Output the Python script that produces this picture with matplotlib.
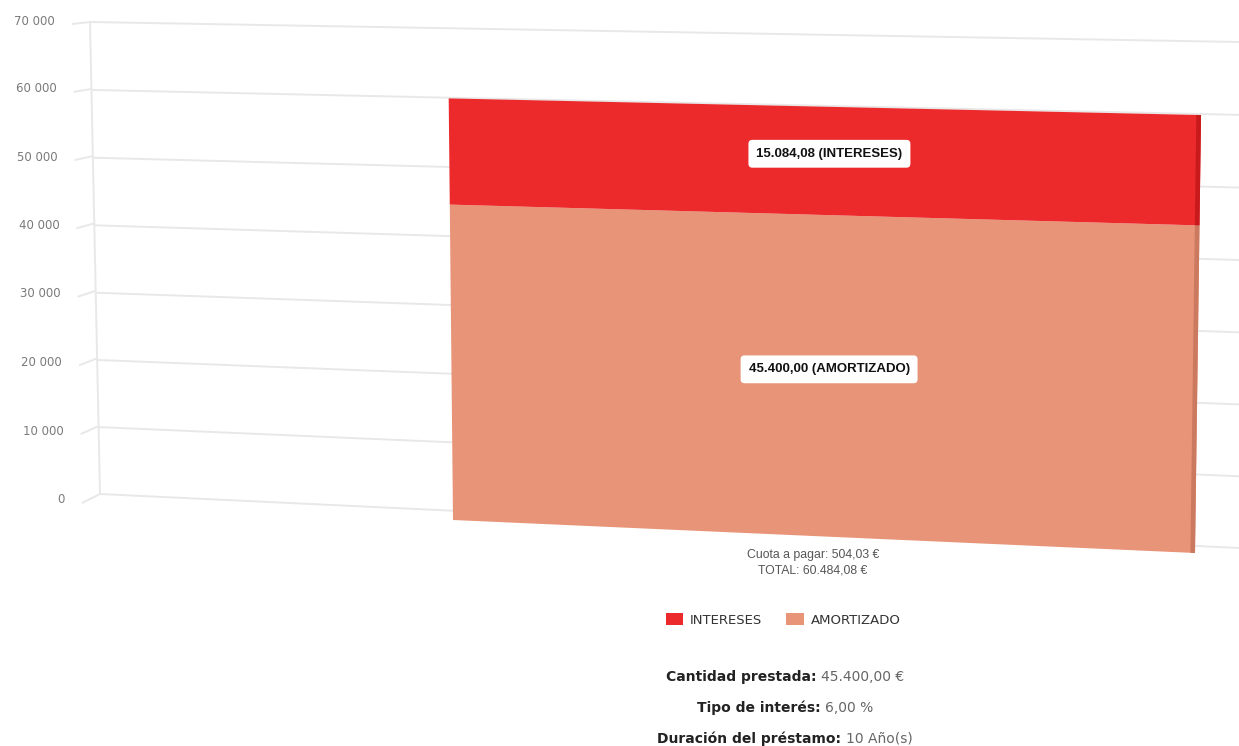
"""
Loan summary chart: one stacked column (amortizado + intereses) drawn in a
tilted 3D-looking perspective, with legend and loan details underneath.
"""
import numpy as np
import matplotlib
matplotlib.use('Agg')
import matplotlib.pyplot as plt
import matplotlib.transforms as mtransforms
from matplotlib.patches import Patch

# ======================== Data ========================
categories = ['Cuota a pagar: 504,03 €\nTOTAL: 60.484,08 €']
amortizado = [45400.00]
intereses = [15084.08]
series_names = ['INTERESES', 'AMORTIZADO']
labels_intereses = ['15.084,08 (INTERESES)']
labels_amortizado = ['45.400,00 (AMORTIZADO)']
y_ticks = [0, 10000, 20000, 30000, 40000, 50000, 60000, 70000]
y_tick_labels = ['0', '10 000', '20 000', '30 000', '40 000', '50 000', '60 000', '70 000']
summary_keys = ['Cantidad prestada:', 'Tipo de interés:', 'Duración del préstamo:']
summary_vals = ['45.400,00 €', '6,00 %', '10 Año(s)']

# ======================== Style / layout ========================
W_PX, H_PX = 1239, 746
RED = '#ec2a2c'
RED_SIDE = '#c81a1c'
SALMON = '#e89478'
SALMON_SIDE = '#cc7a5f'
GRID = '#e8e8e8'
NARROW = ['Liberation Sans', 'DejaVu Sans']

Y_MAX = 70000
WALL_X0, WALL_X1 = -1.0, 0.75     # back wall extent (flat coords)
SIDE_X0 = -1.12                   # outer edge of the left side wall
BAR_W = 1.0

# where the flat frames land in the picture (image pixels, y from top)
WALL_IMG = [(100, 494), (90, 22), (1239, 42), (1239, 548)]
SIDE_IMG = [(82, 503), (72, 24), (90, 22), (100, 494)]
FRONT_IMG = [(453, 520), (448, 31), (1202, 45), (1195, 553)]
SUMMARY_Y = [677, 708, 739]
SUMMARY_CX = 785


# ======================== Perspective warp ========================
class Warp(mtransforms.Transform):
    """Projective (homography) warp in display space."""
    input_dims = output_dims = 2
    has_inverse = True

    def __init__(self, H):
        super().__init__()
        self.H = np.asarray(H, float)

    def transform_non_affine(self, values):
        v = np.asarray(values, float).reshape(-1, 2)
        p = np.column_stack([v, np.ones(len(v))]) @ self.H.T
        return p[:, :2] / p[:, 2:3]

    def inverted(self):
        return Warp(np.linalg.inv(self.H))


def fit_homography(src, dst):
    rows = []
    for (x, y), (u, v) in zip(src, dst):
        rows.append([x, y, 1, 0, 0, 0, -u * x, -u * y, -u])
        rows.append([0, 0, 0, x, y, 1, -v * x, -v * y, -v])
    _, _, vt = np.linalg.svd(np.array(rows))
    return vt[-1].reshape(3, 3)


def frame_transform(ax, x0, x1, img_pts):
    flat = ax.transData.transform([(x0, 0), (x0, Y_MAX), (x1, Y_MAX), (x1, 0)])
    dst = [(x, H_PX - y) for x, y in img_pts]
    return ax.transData + Warp(fit_homography(flat, dst))


# ======================== Figure ========================
fig = plt.figure(figsize=(W_PX / 100, H_PX / 100), dpi=100)
ax = fig.add_axes([0, 0, 1, 1])
ax.set_autoscale_on(False)
ax.set_xlim(-1.3, 1.0)
ax.set_ylim(0, Y_MAX)
ax.axis('off')

tr_wall = frame_transform(ax, WALL_X0, WALL_X1, WALL_IMG)
tr_side = frame_transform(ax, SIDE_X0, WALL_X0, SIDE_IMG)
tr_front = frame_transform(ax, -BAR_W / 2, BAR_W / 2, FRONT_IMG)

# --- back wall grid + side wall ---
ax.hlines(y_ticks, WALL_X0, WALL_X1, colors=GRID, lw=1.4, transform=tr_wall,
          clip_on=False, zorder=1)
ax.hlines(y_ticks, SIDE_X0, WALL_X0, colors=GRID, lw=1.4, transform=tr_side,
          clip_on=False, zorder=1)
ax.vlines(WALL_X0, 0, Y_MAX, colors=GRID, lw=1.4, transform=tr_wall,
          clip_on=False, zorder=1)

tick_tr = mtransforms.offset_copy(tr_side, fig, x=-17, y=3, units='dots')
for v, lab in zip(y_ticks, y_tick_labels):
    ax.text(SIDE_X0, v, lab, transform=tick_tr, ha='right', va='center',
            fontsize=8.5, color='#7a7a7a', clip_on=False)

# --- stacked column ---
x = np.arange(len(categories))
ax.bar(x, amortizado, width=BAR_W, color=SALMON, transform=tr_front,
       clip_on=False, zorder=3)
ax.bar(x, intereses, width=BAR_W, bottom=amortizado, color=RED,
       transform=tr_front, clip_on=False, zorder=3)
# thin darker side face on the right
ax.bar(x + BAR_W / 2, amortizado, width=-0.006, align='edge', color=SALMON_SIDE,
       transform=tr_front, clip_on=False, zorder=4)
ax.bar(x + BAR_W / 2, intereses, width=-0.006, align='edge', bottom=amortizado,
       color=RED_SIDE, transform=tr_front, clip_on=False, zorder=4)

box = dict(boxstyle='round,pad=0.6,rounding_size=0.3', fc='white', ec='none')
lab_tr = mtransforms.offset_copy(tr_front, fig, x=12, y=7, units='dots')
for xi, a, i, la, li in zip(x, amortizado, intereses,
                            labels_amortizado, labels_intereses):
    ax.text(xi, a + i / 2, li, transform=lab_tr, ha='center', va='center',
            fontsize=9.5, fontweight='bold', family=NARROW, color='#111',
            bbox=box, zorder=5, clip_on=False)
    ax.text(xi, a / 2, la, transform=lab_tr, ha='center', va='center',
            fontsize=9.5, fontweight='bold', family=NARROW, color='#111',
            bbox=box, zorder=5, clip_on=False)

# category label below the column
cat_tr = mtransforms.offset_copy(tr_front, fig, x=-4, y=-13, units='dots')
for xi, cat in zip(x, categories):
    ax.text(xi, 0, cat, transform=cat_tr, ha='center', va='top', fontsize=8.8,
            family=NARROW, color='#555', linespacing=1.4, clip_on=False)

# --- legend ---
handles = [Patch(facecolor=RED), Patch(facecolor=SALMON)]
fig.legend(handles, series_names, loc='center',
           bbox_to_anchor=(783 / W_PX, 1 - 620 / H_PX), ncol=2, frameon=False,
           handlelength=1.35, handleheight=1.0, handletextpad=0.5,
           columnspacing=1.8, prop={'family': 'DejaVu Sans', 'size': 9.5},
           labelcolor='#333')

# --- loan details ---
fig.canvas.draw()
renderer = fig.canvas.get_renderer()
for key, val, yy in zip(summary_keys, summary_vals, SUMMARY_Y):
    yf = 1 - yy / H_PX
    t1 = fig.text(0, yf, key, fontsize=10, fontweight='bold', color='#222',
                  va='center', ha='left')
    t2 = fig.text(0, yf, val, fontsize=10, color='#666', va='center', ha='left')
    w1 = t1.get_window_extent(renderer).width
    w2 = t2.get_window_extent(renderer).width
    gap = 5
    x0 = SUMMARY_CX - (w1 + gap + w2) / 2
    t1.set_x(x0 / W_PX)
    t2.set_x((x0 + w1 + gap) / W_PX)

fig.savefig('out.png', dpi=100, facecolor='white')
